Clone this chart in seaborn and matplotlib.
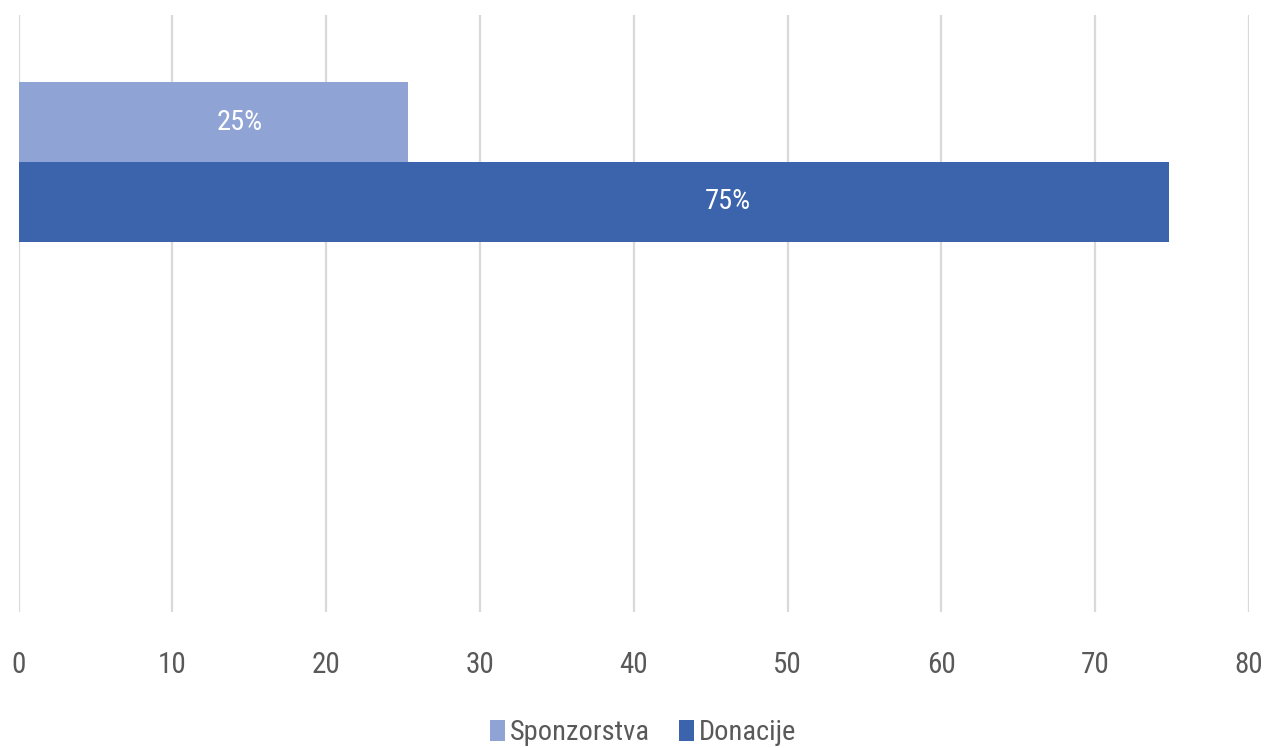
import matplotlib
matplotlib.use("Agg")
import matplotlib.pyplot as plt
import seaborn as sns
import pandas as pd

# Data
categories = ["Kategorija"]
series = ["Sponzorstva", "Donacije"]
values = [25.3, 74.8]
labels = ["25%", "75%"]
label_x = [14.4, 46.1]
colors = ["#8FA4D4", "#3C64AC"]

sns.set_theme(style="white")
plt.rcParams['font.family'] = ['Roboto Condensed', 'Roboto', 'DejaVu Sans']
plt.rcParams['font.stretch'] = 'condensed'

df = pd.DataFrame({
    "cat": [categories[0]] * len(series),
    "series": series,
    "value": values,
})

fig = plt.figure(figsize=(12.66, 7.48), dpi=100)
ax = fig.add_axes([18.5 / 1266, 1 - 612 / 748, (1249 - 18.5) / 1266, (612 - 15) / 748])

sns.barplot(data=df, x="value", y="cat", hue="series", orient="h",
            palette=colors, width=0.534, saturation=1, ax=ax, legend=True,
            linewidth=0)

ax.set_xlim(0, 80)
ax.set_ylim(1.508, -0.492)
ax.set_xticks(range(0, 81, 10))
ax.set_yticks([])
ax.set_xlabel("")
ax.set_ylabel("")
for s in ax.spines.values():
    s.set_visible(False)
ax.grid(axis="x", color="#D9D9D9", linewidth=1.6)
ax.set_axisbelow(True)
ax.tick_params(axis="x", length=0, pad=28, labelsize=21, labelcolor="#595959")

for cont, lab, lx in zip(ax.containers, labels, label_x):
    bar = cont.patches[0]
    yc = bar.get_y() + bar.get_height() / 2
    ax.text(lx, yc, lab, ha="center", va="center", color="white", fontsize=20.5)

handles, hl = ax.get_legend_handles_labels()
ax.legend_.remove()
fig.legend(handles, hl, loc="center", bbox_to_anchor=(643 / 1266, 1 - 733 / 748), ncol=2,
           frameon=False, fontsize=20.5, labelcolor="#595959", handlelength=0.53,
           handleheight=0.75, handletextpad=0.18, columnspacing=1.0)

fig.savefig("out.png", dpi=100)
